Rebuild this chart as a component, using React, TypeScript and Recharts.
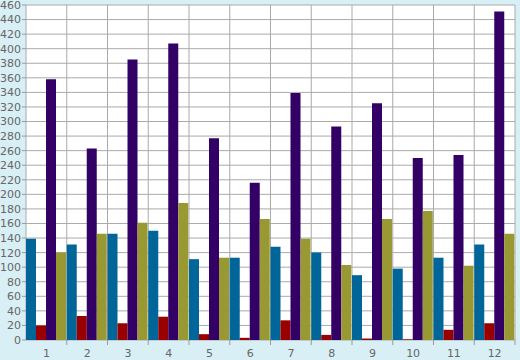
import React from "react";
import { BarChart, Bar, XAxis, YAxis, CartesianGrid } from "recharts";

const categories = ["1", "2", "3", "4", "5", "6", "7", "8", "9", "10", "11", "12"];
const blueValues = [139, 131, 146, 150, 111, 113, 128, 120, 89, 98, 113, 131];
const redValues = [20, 33, 23, 32, 8, 3, 27, 7, 2, 1, 14, 23];
const purpleValues = [358, 263, 385, 407, 277, 216, 339, 293, 325, 250, 254, 451];
const oliveValues = [120, 146, 161, 188, 113, 166, 139, 103, 166, 177, 102, 146];
const yTicks = [
  0, 20, 40, 60, 80, 100, 120, 140, 160, 180, 200, 220, 240, 260, 280, 300,
  320, 340, 360, 380, 400, 420, 440, 460,
];

const data = categories.map((name, i) => ({
  name,
  blue: blueValues[i],
  red: redValues[i],
  purple: purpleValues[i],
  olive: oliveValues[i],
}));

const W = 520;
const H = 360;
const margin = { top: 5, right: 5, left: 0, bottom: 0 };
const yAxisWidth = 26;
const band = (W - yAxisWidth - margin.left - margin.right) / categories.length;

const XTick = (props: any) => {
  const { x, y, payload } = props;
  return (
    <g>
      <line x1={x + band / 2} x2={x + band / 2} y1={y} y2={y + 5} stroke="#999" />
      <text x={x} y={y + 17} textAnchor="middle" fill="#666" fontSize={11} fontFamily="DejaVu Sans">
        {payload.value}
      </text>
    </g>
  );
};

export default function App() {
  return (
    <div style={{ position: "absolute", left: 0, top: 0, width: W, height: H, background: "#d9eff6" }}>
      <BarChart
        width={W}
        height={H}
        data={data}
        margin={margin}
        barCategoryGap={0}
        barGap={0}
      >
        <CartesianGrid
          stroke="#aaaaaa"
          strokeWidth={1}
          fill="#ffffff"
          verticalCoordinatesGenerator={({ offset }: any) =>
            categories.map((_, i) => offset.left + (i + 1) * (offset.width / categories.length)).concat([offset.left])
          }
        />
        <XAxis
          dataKey="name"
          height={20}
          axisLine={false}
          tickLine={false}
          tickSize={0}
          tickMargin={0}
          tick={<XTick />}
          interval={0}
        />
        <YAxis
          width={yAxisWidth}
          domain={[0, 460]}
          ticks={yTicks}
          interval={0}
          axisLine={false}
          tickSize={4}
          tickMargin={1}
          tickLine={{ stroke: "#999" }}
          tick={{ fill: "#666", fontSize: 11, fontFamily: "DejaVu Sans" }}
        />
        <Bar dataKey="blue" fill="#006699" isAnimationActive={false} />
        <Bar dataKey="red" fill="#990000" isAnimationActive={false} />
        <Bar dataKey="purple" fill="#330066" isAnimationActive={false} />
        <Bar dataKey="olive" fill="#999933" isAnimationActive={false} />
      </BarChart>
    </div>
  );
}
